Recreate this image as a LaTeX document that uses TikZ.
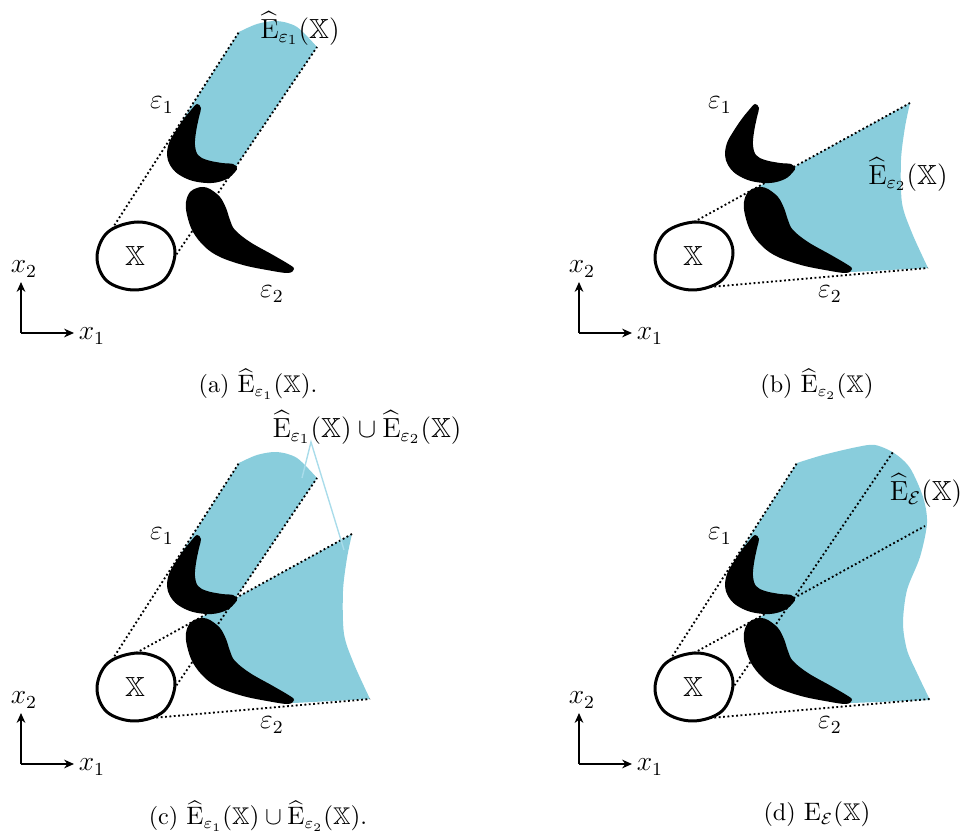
\documentclass[tikz,border=0pt]{standalone}
\usepackage{amsmath,amssymb}
\usepackage{xcolor}
\usepackage{tikz}
\usetikzlibrary{arrows.meta}
\definecolor{reachblue}{HTML}{89CDDC}
\definecolor{leaderblue}{HTML}{A9DCEA}

\newcommand{\Ehat}[1]{\widehat{\mathrm{E}}_{#1}(\mathbb{X})}

% obstacles, the set X and the axes (same in every panel)
\newcommand{\obstacles}[1]{%
  \fill[obst] plot[smooth cycle, tension=0.6] coordinates {(191,110) (183,120) (175,132) (169,143) (167,155) (170,165) (178,174) (193,181) (212,183) (227,179) (235,172) (237,168) (233,164) (222,163) (207,160) (198,155) (195,145) (196,132) (199,117) (201,108) (197,104)};
  \fill[obst] plot[smooth cycle, tension=0.6] coordinates {(197,188) (190,192) (186,202) (187,215) (193,232) (205,247) (220,257) (243,265) (267,270) (288,273) (294,269) (290,265) (273,255) (250,242) (235,230) (230,220) (226,208) (220,197) (210,189) (203,187)};
  \draw[setX] plot[smooth cycle, tension=0.6] coordinates {(97,257) (108,232) (138,222) (165,231) (175,253) (164,280) (135,290) (107,281)};
  \node[lbl] (X#1) at (135,256) {$\mathbb{X}$};
  \node[lbl] (e1#1) at (162,105) {$\varepsilon_1$};
  \node[lbl] (e2#1) at (272,294) {$\varepsilon_2$};
  \coordinate (o#1) at (21,333);
  \coordinate (up#1) at (21,282);
  \coordinate (rt#1) at (74,333);
  \draw[axarrow] (o#1) -- (up#1);
  \draw[axarrow] (o#1) -- (rt#1);
  \node[lbl] (xtwo#1) at (24,269) {$x_2$};
  \node[lbl] (xone#1) at (92,336) {$x_1$};
}

\begin{document}
\begin{tikzpicture}[
  x=0.01528cm, y=-0.01528cm,
  inner sep=1pt,
  lbl/.style={font=\large},
  subcap/.style={font=\fontsize{10.5}{12.6}\selectfont},
  reach/.style={fill=reachblue, draw=none},
  obst/.style={fill=black},
  setX/.style={draw=black, line width=1.3pt, fill=white},
  ray/.style={line width=0.8pt, dash pattern=on 0.8pt off 1.1pt},
  axarrow/.style={-{Stealth[length=4.3pt, width=3.8pt]}, line width=0.9pt},
  leader/.style={draw=leaderblue, line width=0.6pt},
]
\useasboundingbox (0,0) rectangle (965,835);
% ----- (a) -----
\fill[reach] (182,121) -- (239,32) -- plot[smooth] coordinates {(239,32) (257,24) (277,21) (297,27) (317,47)}
  -- (235,168) -- (228,172) -- (214,168) -- (199,162) -- (189,150) -- (189,132) -- (193,116) -- (196,108) -- cycle;
\draw[ray] (112,229) -- (239,32);
\draw[ray] (174,258) -- (317,47);
\obstacles{a}
\node[lbl] (lbla) at (300,28) {$\Ehat{\varepsilon_1}$};
\node[subcap] (capa) at (258,384) {(a) $\Ehat{\varepsilon_1}$.};
% ----- (b) -----
\begin{scope}[shift={(558,0)}]
\fill[reach] (200,187) -- (236,167) -- (352,103) -- plot[smooth] coordinates {(352,103) (347,127) (343,160) (344,203) (354,233) (370,268)}
  -- (294,272) -- (286,270) -- (270,262) -- (250,250) -- (234,234) -- (226,222) -- (221,206) -- (211,195) -- (202,191) -- cycle;
\draw[ray] (136,222) -- (352,103);
\draw[ray] (152,287) -- (370,268);
\obstacles{b}
\node[lbl] (lblb) at (350,174) {$\Ehat{\varepsilon_2}$};
\node[subcap] (capb) at (259,384) {(b) $\Ehat{\varepsilon_2}$};
\end{scope}
% ----- (c) -----
\begin{scope}[shift={(0,431)}]
\fill[reach] (182,121) -- (239,32) -- plot[smooth] coordinates {(239,32) (257,24) (277,21) (297,27) (317,47)}
  -- (235,168) -- (228,172) -- (214,168) -- (199,162) -- (189,150) -- (189,132) -- (193,116) -- (196,108) -- cycle;
\fill[reach] (200,187) -- (236,167) -- (352,103) -- plot[smooth] coordinates {(352,103) (347,127) (343,160) (344,203) (354,233) (370,268)}
  -- (294,272) -- (286,270) -- (270,262) -- (250,250) -- (234,234) -- (226,222) -- (221,206) -- (211,195) -- (202,191) -- cycle;
\draw[ray] (112,229) -- (239,32);
\draw[ray] (174,258) -- (317,47);
\draw[ray] (136,222) -- (352,103);
\draw[ray] (152,287) -- (370,268);
\obstacles{c}
\node[lbl] (lblc) at (367,-4) {$\Ehat{\varepsilon_1}\cup\Ehat{\varepsilon_2}$};
\coordinate (hub) at (311,11);
\coordinate (pa) at (302,47);
\coordinate (pb) at (344,119);
\draw[leader] (pa) -- (hub) -- (pb);
\node[subcap] (capc) at (258,385) {(c) $\Ehat{\varepsilon_1}\cup\Ehat{\varepsilon_2}$.};
\end{scope}
% ----- (d) -----
\begin{scope}[shift={(558,431)}]
\fill[reach] (182,121) -- (239,32) -- plot[smooth] coordinates {(239,32) (265,24) (299,16) (317,14) (336,22) (352,37) (365,66) (369,92) (362,126) (349,159) (345,192) (349,219) (359,242) (372,269)}
  -- (294,272) -- (286,270) -- (270,262) -- (250,250) -- (234,234) -- (226,222) -- (221,206) -- (211,195) -- (202,191) -- (200,187)
  -- (236,167) -- (228,172) -- (214,168) -- (199,162) -- (189,150) -- (189,132) -- (193,116) -- (196,108) -- cycle;
\draw[ray] (112,229) -- (239,32);
\draw[ray] (174,258) -- (335,21);
\draw[ray] (136,222) -- (367,95);
\draw[ray] (152,287) -- (372,268);
\obstacles{d}
\node[lbl] (lbld) at (368,59) {$\widehat{\mathrm{E}}_{\mathcal{E}}(\mathbb{X})$};
\node[subcap] (capd) at (259,383) {(d) $\mathrm{E}_{\mathcal{E}}(\mathbb{X})$};
\end{scope}
\end{tikzpicture}
\end{document}
